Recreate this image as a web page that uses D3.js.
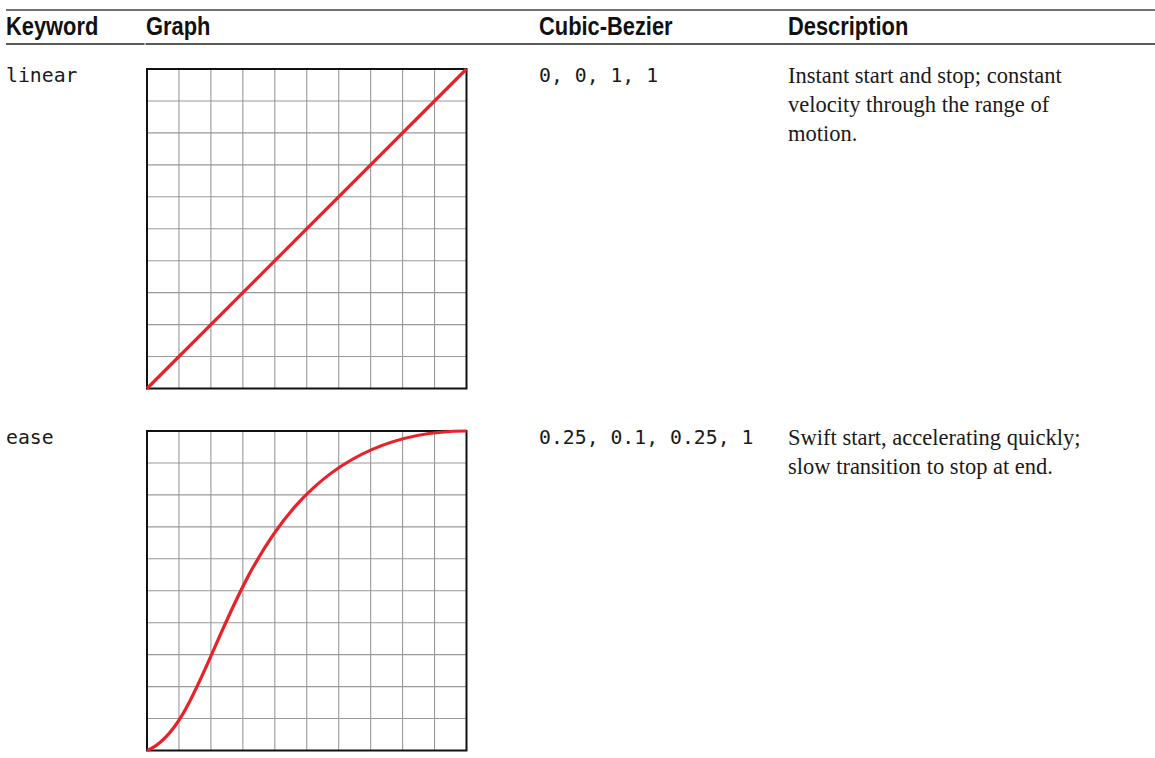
<!DOCTYPE html>
<html>
<head>
<meta charset="utf-8">
<script src="https://cdn.jsdelivr.net/npm/d3@7"></script>
<style>
  html, body { margin: 0; padding: 0; background: #fff; }
  svg { display: block; }
</style>
</head>
<body>
<svg id="chart" width="1155" height="758"></svg>
<script>
// ---- data ----
const headers = ["Keyword", "Graph", "Cubic-Bezier", "Description"];
const keywords = ["linear", "ease"];
const bezierPoints = [
  [0, 0, 1, 1],
  [0.25, 0.1, 0.25, 1]
];
const bezierLabels = ["0, 0, 1, 1", "0.25, 0.1, 0.25, 1"];
const descriptions = [
  ["Instant start and stop; constant", "velocity through the range of", "motion."],
  ["Swift start, accelerating quickly;", "slow transition to stop at end."]
];
const gridTicks = [0, 0.1, 0.2, 0.3, 0.4, 0.5, 0.6, 0.7, 0.8, 0.9, 1];

// ---- layout ----
const svg = d3.select("#chart");
const colX = [6, 146, 539, 788];
const rowTop = [69, 431];
const graphSize = 319.5;
const headFont = "'Liberation Sans Narrow', 'Arial Narrow', 'Liberation Sans', sans-serif";
const monoFont = "'DejaVu Sans Mono', 'Liberation Mono', monospace";
const serifFont = "'Liberation Serif', 'DejaVu Serif', serif";

// top rule and header rule
svg.append("line").attr("x1", 6).attr("x2", 1155).attr("y1", 10).attr("y2", 10)
  .attr("stroke", "#444").attr("stroke-width", 1.4);
svg.append("line").attr("x1", 6).attr("x2", 144.5).attr("y1", 44).attr("y2", 44)
  .attr("stroke", "#222").attr("stroke-width", 1.4);
svg.append("line").attr("x1", 145.5).attr("x2", 1155).attr("y1", 44).attr("y2", 44)
  .attr("stroke", "#222").attr("stroke-width", 1.4);

// headers (condensed)
svg.selectAll("text.head").data(headers).join("text")
  .attr("class", "head")
  .attr("transform", (d, i) => `translate(${colX[i]},35) scale(0.875,1)`)
  .attr("font-family", headFont)
  .attr("font-weight", "bold")
  .attr("font-size", 25)
  .attr("fill", "#111")
  .text(d => d);

keywords.forEach((kw, r) => {
  const top = rowTop[r];
  const x = d3.scaleLinear().domain([0, 1]).range([colX[1] + 1, colX[1] + 1 + graphSize]);
  const y = d3.scaleLinear().domain([0, 1]).range([top + graphSize, top]);

  // keyword
  svg.append("text").attr("x", colX[0]).attr("y", top + 13)
    .attr("font-family", monoFont).attr("font-size", 19.8).attr("fill", "#1a1a1a")
    .text(kw);

  const g = svg.append("g");
  // grid
  g.selectAll("line.v").data(gridTicks.slice(1, -1)).join("line")
    .attr("x1", d => x(d)).attr("x2", d => x(d))
    .attr("y1", y(0)).attr("y2", y(1))
    .attr("stroke", "#999").attr("stroke-width", 1.1);
  g.selectAll("line.h").data(gridTicks.slice(1, -1)).join("line")
    .attr("y1", d => y(d)).attr("y2", d => y(d))
    .attr("x1", x(0)).attr("x2", x(1))
    .attr("stroke", "#999").attr("stroke-width", 1.1);
  // border
  g.append("rect").attr("x", x(0)).attr("y", y(1))
    .attr("width", x(1) - x(0)).attr("height", y(0) - y(1))
    .attr("fill", "none").attr("stroke", "#111").attr("stroke-width", 2);
  // curve
  const p = bezierPoints[r];
  const path = d3.path();
  path.moveTo(x(0), y(0));
  path.bezierCurveTo(x(p[0]), y(p[1]), x(p[2]), y(p[3]), x(1), y(1));
  g.append("path").attr("d", path.toString())
    .attr("fill", "none").attr("stroke", "#e8222a").attr("stroke-width", 3.2)
    .attr("stroke-linecap", "butt");

  // bezier label
  svg.append("text").attr("x", colX[2]).attr("y", top + 13)
    .attr("font-family", monoFont).attr("font-size", 19.8).attr("fill", "#1a1a1a")
    .attr("xml:space", "preserve")
    .text(bezierLabels[r]);

  // description
  const t = svg.append("text").attr("x", colX[3]).attr("y", top + 14)
    .attr("font-family", serifFont).attr("font-size", 22.5).attr("fill", "#1a1a1a");
  t.selectAll("tspan").data(descriptions[r]).join("tspan")
    .attr("x", colX[3])
    .attr("dy", (d, i) => i === 0 ? 0 : 29)
    .text(d => d);
});
</script>
</body>
</html>
